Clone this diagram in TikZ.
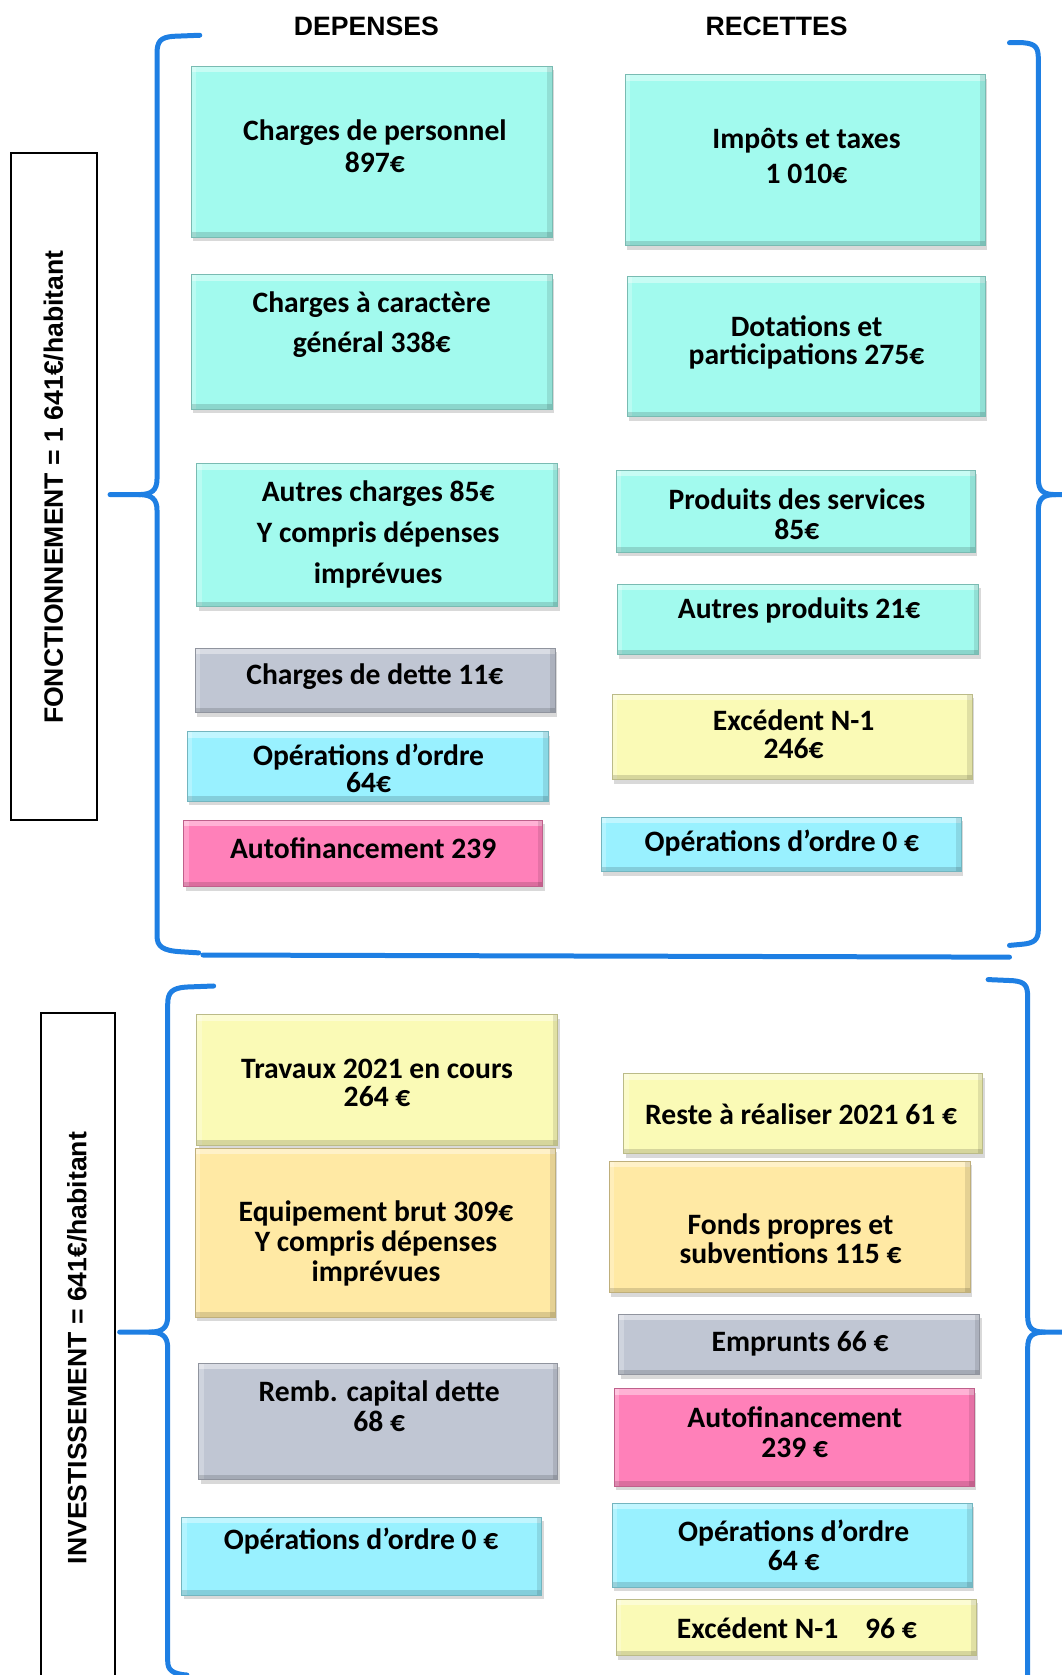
\documentclass[tikz,border=0pt]{standalone}
\usepackage{fontspec}
\setmainfont{Carlito}
\newfontfamily\arialf{Liberation Sans}
\usetikzlibrary{shadows,fit}
\definecolor{brc}{HTML}{1E7FE3}
\definecolor{cteal}{HTML}{A2FAEE}
\definecolor{cgray}{HTML}{C0C6D3}
\definecolor{cblue}{HTML}{99F1FF}
\definecolor{cpink}{HTML}{FF80B9}
\definecolor{cyel}{HTML}{FAFAB6}
\definecolor{corg}{HTML}{FFE9A4}
\begin{document}
\begin{tikzpicture}[x=1.0684pt,y=-1.0684pt,
 bx/.style={inner sep=0pt, fill=#1, draw=#1!75!black, line width=0.8pt,
   drop shadow={shadow xshift=2pt, shadow yshift=-4pt, opacity=0.3},
   path picture={
     \fill[white,opacity=0.4] (path picture bounding box.north west) rectangle ([yshift=-6pt]path picture bounding box.north east);
     \fill[white,opacity=0.25] (path picture bounding box.north west) rectangle ([xshift=5pt]path picture bounding box.south west);
     \fill[black,opacity=0.14] ([yshift=5pt]path picture bounding box.south west) rectangle (path picture bounding box.south east);
     \fill[black,opacity=0.10] ([xshift=-5pt]path picture bounding box.north east) rectangle (path picture bounding box.south east);
   }},
 txt/.style={font=\fontsize{29.6}{#1}\selectfont\bfseries, align=center, inner sep=0pt},
 txt/.default=32,
 hd/.style={font=\fontsize{26.6}{30}\selectfont\arialf\bfseries, inner sep=0pt},
 brace/.style={draw=brc, line width=5pt, line cap=round, line join=round},
 lab/.style={draw=black, line width=2pt, inner sep=0pt}]
\useasboundingbox (0,0) rectangle (994,1568);

% headings
\node[hd] (hdep) at (343,25) {DEPENSES};
\node[hd] (hrec) at (727,25) {RECETTES};

% ===== FONCTIONNEMENT =====
\node[lab, fit={(10,143) (91,768)}] (labf) {};
\node[hd, rotate=90] (labft) at (50,456) {FONCTIONNEMENT = 1 641€/habitant};

\draw[brace] (187,33) -- (162,34) .. controls (150,35) and (147,39) .. (147,50) -- (147,448)
  .. controls (147,459) and (142,463) .. (130,463) -- (103,463);
\draw[brace] (130,463) .. controls (142,463) and (147,467) .. (147,478) -- (147,876)
  .. controls (147,886) and (152,890) .. (170,891) -- (186,892);
\draw[brace] (190,894) -- (945,896);
\draw[brace] (945,40) -- (958,40) .. controls (969,41) and (972,44) .. (972,55) -- (972,448)
  .. controls (972,459) and (976,463) .. (988,463) -- (996,463);
\draw[brace] (988,463) .. controls (976,463) and (972,467) .. (972,478) -- (972,870)
  .. controls (972,880) and (968,883) .. (956,884) -- (945,885);

% depenses fonctionnement
\node[bx=cteal, fit={(179,62) (517,222)}] (f1) {};
\node[txt] (f1t) at (351,137) {Charges de personnel\\897€};
\node[bx=cteal, fit={(179,257) (517,383)}] (f2) {};
\node[txt=40] (f2t) at (348,304) {Charges à caractère\\général 338€};
\node[bx=cteal, fit={(184,434) (522,568)}] (f3) {};
\node[txt=41] (f3t) at (354,500) {Autres charges 85€\\Y compris dépenses\\imprévues};
\node[bx=cgray, fit={(183,607) (520,667)}] (f4) {};
\node[txt] (f4t) at (351,633) {Charges de dette 11€};
\node[bx=cblue, fit={(175,685) (513,750)}] (f5) {};
\node[txt=27] (f5t) at (345,719) {Opérations d’ordre\\64€};
\node[bx=cpink, fit={(172,768) (508,830)}] (f6) {};
\node[txt] (f6t) at (340,794) {Autofinancement 239};

% recettes fonctionnement
\node[bx=cteal, fit={(585,70) (922,230)}] (r1) {};
\node[txt=35] (r1t) at (755,146) {Impôts et taxes\\1 010€};
\node[bx=cteal, fit={(587,259) (922,390)}] (r2) {};
\node[txt=28] (r2t) at (755,321) {Dotations et\\participations 275€};
\node[bx=cteal, fit={(577,440) (913,517)}] (r3) {};
\node[txt=30] (r3t) at (746,481) {Produits des services\\85€};
\node[bx=cteal, fit={(578,547) (916,613)}] (r4) {};
\node[txt] (r4t) at (748,571) {Autres produits 21€};
\node[bx=cyel, fit={(573,650) (910,730)}] (r5) {};
\node[txt=28] (r5t) at (743,687) {Excédent N-1\\246€};
\node[bx=cblue, fit={(563,765) (900,816)}] (r6) {};
\node[txt] (r6t) at (732,789) {Opérations d’ordre 0 €};

% ===== INVESTISSEMENT =====
\node[lab, fit={(38,948) (108,1590)}] (labi) {};
\node[hd, rotate=90] (labit) at (72,1262) {INVESTISSEMENT = 641€/habitant};

\draw[brace] (200,923) -- (174,924) .. controls (161,925) and (157,929) .. (157,940) -- (157,1232)
  .. controls (157,1243) and (152,1247) .. (140,1247) -- (112,1247);
\draw[brace] (140,1247) .. controls (152,1247) and (157,1251) .. (157,1262) -- (157,1555)
  .. controls (157,1563) and (161,1567) .. (175,1568);
\draw[brace] (925,917) -- (948,918) .. controls (959,919) and (962,922) .. (962,933) -- (962,1232)
  .. controls (962,1243) and (966,1247) .. (978,1247) -- (996,1247);
\draw[brace] (978,1247) .. controls (966,1247) and (962,1251) .. (962,1262) -- (962,1575);

% depenses investissement
\node[bx=cyel, fit={(184,950) (522,1072)}] (d1) {};
\node[txt=28] (d1t) at (353,1014) {Travaux 2021 en cours\\264 €};
\node[bx=corg, fit={(183,1075) (520,1233)}] (d2) {};
\node[txt=30] (d2t) at (352,1164) {Equipement brut 309€\\Y compris dépenses\\imprévues};
\node[bx=cgray, fit={(186,1276) (522,1385)}] (d3) {};
\node[txt=30] (d3t) at (355,1316) {Remb. capital dette\\68 €};
\node[bx=cblue, fit={(170,1420) (507,1493)}] (d4) {};
\node[txt] (d4t) at (338,1443) {Opérations d’ordre 0 €};

% recettes investissement
\node[bx=cyel, fit={(584,1005) (920,1080)}] (e1) {};
\node[txt] (e1t) at (750,1043) {Reste à réaliser 2021 61 €};
\node[bx=corg, fit={(570,1087) (908,1210)}] (e2) {};
\node[txt=29] (e2t) at (740,1160) {Fonds propres et\\subventions 115 €};
\node[bx=cgray, fit={(579,1230) (917,1287)}] (e3) {};
\node[txt] (e3t) at (749,1258) {Emprunts 66 €};
\node[bx=cpink, fit={(575,1300) (912,1391)}] (e4) {};
\node[txt=30] (e4t) at (744,1341) {Autofinancement\\239 €};
\node[bx=cblue, fit={(573,1407) (910,1486)}] (e5) {};
\node[txt=29] (e5t) at (743,1447) {Opérations d’ordre\\64 €};
\node[bx=cyel, fit={(577,1497) (914,1550)}] (e6) {};
\node[txt] (e6t) at (746,1524) {Excédent N-1\hspace{0.9em}96 €};
\end{tikzpicture}
\end{document}
